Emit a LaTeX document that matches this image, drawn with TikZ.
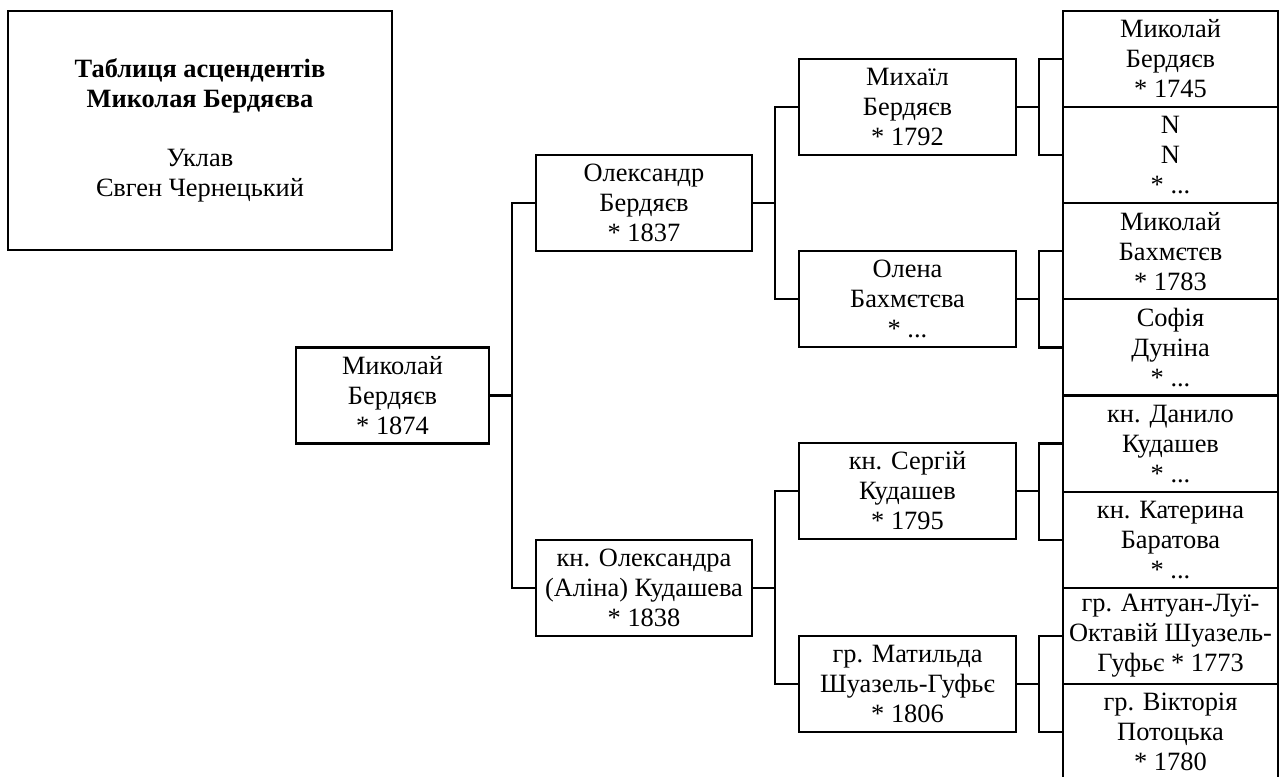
\documentclass[tikz,border=0pt]{standalone}
\usepackage{fontspec}
\setmainfont{Liberation Serif}
\begin{document}
\begin{tikzpicture}[x=0.75pt,y=-0.75pt,
  every node/.style={font=\fontsize{19.8}{22.5}\selectfont},
  box/.style={draw, line width=1.6pt, rectangle, inner sep=0pt, align=center, minimum height=72pt},
  rootbox/.style={box, minimum width=144.75pt},
  gonebox/.style={box, minimum width=162pt},
  gtwobox/.style={box, minimum width=162.75pt},
  gthreebox/.style={box, minimum width=161.25pt, minimum height=72.09pt},
  link/.style={line width=1.6pt}]
\useasboundingbox (0,0) rectangle (1279,777);
\fill[white] (0,0) rectangle (1279,777);
% title
\node[draw, line width=1.6pt, minimum width=288pt, minimum height=179.25pt, align=center, inner sep=0pt] (title) at (200,130.5)
  {\textbf{Таблиця асцендентів}\\\textbf{Миколая Бердяєва}\\[22pt]Уклав\\Євген Чернецький};
% generations
\node[rootbox] (root) at (392.5,395.5) {Миколай\\Бердяєв\\* 1874};
\node[gonebox] (f) at (644,203) {Олександр\\Бердяєв\\* 1837};
\node[gonebox] (m) at (644,588) {кн. Олександра\\(Аліна) Кудашева\\* 1838};
\node[gtwobox] (ff) at (907.5,107) {Михаїл\\Бердяєв\\* 1792};
\node[gtwobox] (fm) at (907.5,299) {Олена\\Бахмєтєва\\* ...};
\node[gtwobox] (mf) at (907.5,491) {кн. Сергій\\Кудашев\\* 1795};
\node[gtwobox] (mm) at (907.5,684) {гр. Матильда\\Шуазель-Гуфьє\\* 1806};
\node[gthreebox] (fff) at (1170.5,59.06) {Миколай\\Бердяєв\\* 1745};
\node[gthreebox] (ffm) at (1170.5,155.19) {N\\N\\* ...};
\node[gthreebox] (fmf) at (1170.5,251.31) {Миколай\\Бахмєтєв\\* 1783};
\node[gthreebox] (fmm) at (1170.5,347.44) {Софія\\Дуніна\\* ...};
\node[gthreebox] (mff) at (1170.5,443.56) {кн. Данило\\Кудашев\\* ...};
\node[gthreebox] (mfm) at (1170.5,539.69) {кн. Катерина\\Баратова\\* ...};
\node[gthreebox] (mmf) at (1170.5,635.81) {гр. Антуан-Луї-\\Октавій Шуазель-\\Гуфьє * 1773};
\node[gthreebox] (mmm) at (1170.5,731.94) {гр. Вікторія\\Потоцька\\* 1780};
% bracket coordinates
\coordinate (b0) at (512,395.5);
\coordinate (b1) at (775,203);
\coordinate (b2) at (775,588);
\coordinate (c1) at (1039,107);
\coordinate (c2) at (1039,299);
\coordinate (c3) at (1039,491);
\coordinate (c4) at (1039,684);
% connectors
\draw[link] (root.east) -- (b0);
\draw[link] (f.west) -| (b0) |- (m.west);
\draw[link] (f.east) -- (b1);
\draw[link] (ff.west) -| (b1) |- (fm.west);
\draw[link] (m.east) -- (b2);
\draw[link] (mf.west) -| (b2) |- (mm.west);
\draw[link] (ff.east) -- (c1);
\draw[link] (fff.west) -| (c1) |- (ffm.west);
\draw[link] (fm.east) -- (c2);
\draw[link] (fmf.west) -| (c2) |- (fmm.west);
\draw[link] (mf.east) -- (c3);
\draw[link] (mff.west) -| (c3) |- (mfm.west);
\draw[link] (mm.east) -- (c4);
\draw[link] (mmf.west) -| (c4) |- (mmm.west);
\end{tikzpicture}
\end{document}
